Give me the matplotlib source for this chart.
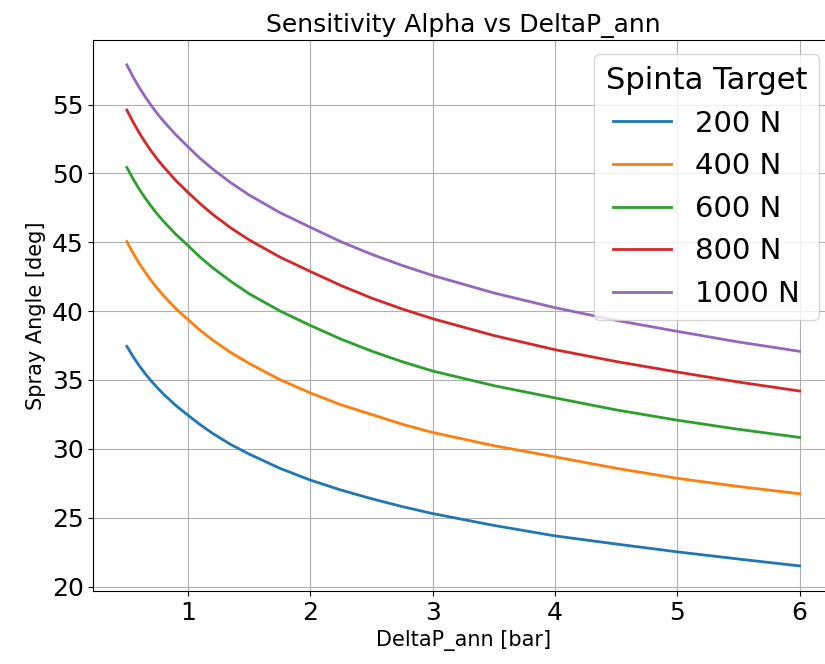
import numpy as np
import matplotlib
matplotlib.use('Agg')
import matplotlib.pyplot as plt

# pressure drop points [bar]
deltap = [0.5, 0.55, 0.6, 0.65, 0.7, 0.75, 0.8, 0.9, 1.0, 1.1, 1.2, 1.35, 1.5, 1.75,
          2.0, 2.25, 2.5, 2.75, 3.0, 3.5, 4.0, 4.5, 5.0, 5.5, 6.0]

# spray angle [deg] for each thrust target
alpha_200 = [37.44, 36.71, 36.05, 35.46, 34.92, 34.43, 33.97, 33.15, 32.44, 31.75, 31.13, 30.31, 29.62, 28.59,
             27.73, 27.01, 26.38, 25.81, 25.3, 24.44, 23.68, 23.09, 22.52, 22.0, 21.5]
alpha_400 = [45.05, 44.23, 43.48, 42.82, 42.2, 41.64, 41.12, 40.19, 39.38, 38.6, 37.91, 36.99, 36.2, 35.03,
             34.06, 33.2, 32.5, 31.79, 31.19, 30.23, 29.42, 28.59, 27.86, 27.27, 26.74]
alpha_600 = [50.43, 49.61, 48.87, 48.21, 47.6, 47.03, 46.52, 45.58, 44.76, 43.91, 43.16, 42.16, 41.26, 40.02,
             38.96, 37.97, 37.1, 36.33, 35.65, 34.59, 33.7, 32.83, 32.08, 31.42, 30.83]
alpha_800 = [54.6, 53.74, 52.96, 52.26, 51.61, 51.02, 50.48, 49.49, 48.62, 47.79, 47.04, 46.04, 45.17, 43.93,
             42.88, 41.86, 40.95, 40.16, 39.45, 38.23, 37.2, 36.34, 35.58, 34.85, 34.2]
alpha_1000 = [57.88, 57.02, 56.26, 55.56, 54.92, 54.33, 53.79, 52.81, 51.93, 51.08, 50.33, 49.32, 48.43, 47.16,
              46.09, 45.04, 44.13, 43.32, 42.59, 41.32, 40.25, 39.33, 38.53, 37.76, 37.08]

targets = ['200 N', '400 N', '600 N', '800 N', '1000 N']
series = [alpha_200, alpha_400, alpha_600, alpha_800, alpha_1000]

fig = plt.figure(figsize=(8.25, 6.64), dpi=100)
ax = fig.add_axes([0.113, 0.110, 0.897, 0.830])

for lab, a in zip(targets, series):
    ax.plot(deltap, a, lw=2, label=lab)

ax.set_title('Sensitivity Alpha vs DeltaP_ann', fontsize=18)
ax.set_xlabel('DeltaP_ann [bar]', fontsize=15)
ax.set_ylabel('Spray Angle [deg]', fontsize=15)
ax.tick_params(labelsize=18)
ax.grid(True)
ax.legend(title='Spinta Target', fontsize=21, title_fontsize=22, loc='upper right')

plt.savefig('out.png', dpi=100)
